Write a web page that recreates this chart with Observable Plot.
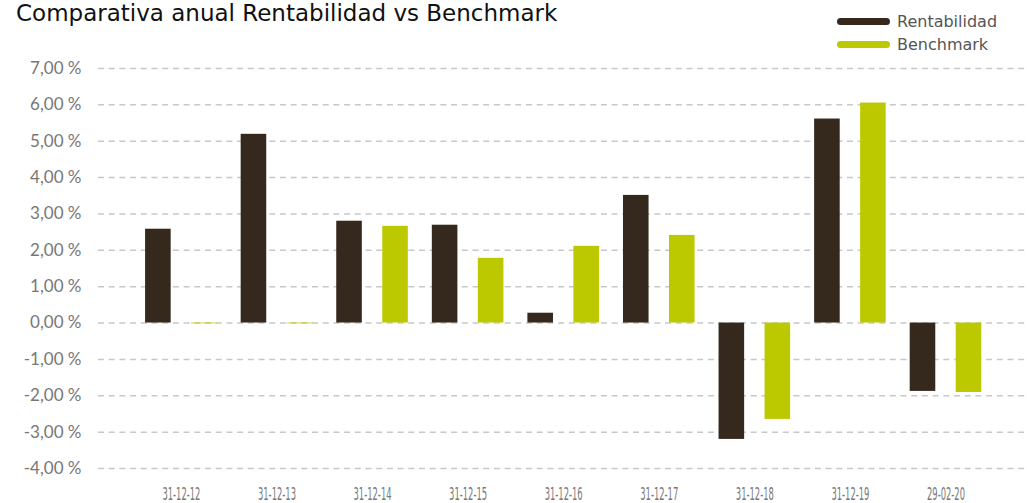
<!DOCTYPE html>
<html><head><meta charset="utf-8">
<script src="https://cdn.jsdelivr.net/npm/d3@7"></script>
<script src="https://cdn.jsdelivr.net/npm/@observablehq/plot@0.6"></script>
<style>
body{margin:0;background:#fff;overflow:hidden}
#wrap{position:relative;width:1027px;height:503px}
#title{position:absolute;left:16px;top:2px;font-family:"DejaVu Sans";font-size:23px;line-height:23px;color:#111;white-space:nowrap;z-index:2}
#legend{position:absolute;left:837px;top:10px;z-index:2;font-family:"DejaVu Sans";font-size:16px;color:#555}
.li{display:flex;align-items:center;height:23px}
.sw{width:53px;height:7px;border-radius:4px;margin-right:7px}
</style></head>
<body><div id="wrap"><div id="title"></div><div id="legend"></div></div>
<script>
const titleText = "Comparativa anual Rentabilidad vs Benchmark";
const dates = ["31-12-12","31-12-13","31-12-14","31-12-15","31-12-16","31-12-17","31-12-18","31-12-19","29-02-20"];
const rentabilidad = [2.58, 5.19, 2.80, 2.69, 0.27, 3.51, -3.20, 5.61, -1.88];
const benchmark = [-0.02, -0.02, 2.66, 1.78, 2.11, 2.41, -2.65, 6.05, -1.91];
const seriesNames = ["Rentabilidad", "Benchmark"];
const seriesColors = ["#35281c", "#bcc900"];
const yTicks = [-4, -3, -2, -1, 0, 1, 2, 3, 4, 5, 6, 7];

const rows = dates.map((d, i) => ({date: d, rent: rentabilidad[i], bench: benchmark[i]}));

document.getElementById("title").textContent = titleText;
const leg = document.getElementById("legend");
seriesNames.forEach((n, i) => {
  const li = document.createElement("div"); li.className = "li";
  const sw = document.createElement("div"); sw.className = "sw"; sw.style.background = seriesColors[i];
  const t = document.createElement("span"); t.textContent = n;
  li.appendChild(sw); li.appendChild(t); leg.appendChild(li);
});

const chart = Plot.plot({
  width: 1027, height: 503,
  marginTop: 68, marginBottom: 35, marginLeft: 98, marginRight: 0,
  style: {background: "#fff", color: "#777", fontFamily: "Lato", fontSize: "16px"},
  x: {domain: dates, paddingInner: 0, paddingOuter: 0.36, align: 0.51, round: false, label: null},
  y: {domain: [-4, 7], label: null},
  marks: [
    Plot.ruleY(yTicks, {stroke: "#c8c8c8", strokeWidth: 1.5, strokeDasharray: "6,4.7"}),
    Plot.barY(rows, {x: "date", y: "rent", fill: seriesColors[0], insetLeft: 12, insetRight: 58}),
    Plot.barY(rows, {x: "date", y: "bench", fill: seriesColors[1], insetLeft: 58, insetRight: 12}),
    Plot.axisY({ticks: yTicks, tickSize: 0, tickPadding: 17, fontSize: 17, fill: "#777",
      tickFormat: d => d.toFixed(2).replace(".", ",") + " %", label: null}),
    Plot.axisX({tickSize: 0, tickPadding: 19, fontSize: 17, fill: "#777", fontFamily: "DejaVu Sans Condensed", label: null})
  ]
});
chart.style.position = "absolute"; chart.style.left = "0"; chart.style.top = "0";
document.getElementById("wrap").appendChild(chart);
chart.querySelectorAll('[aria-label="x-axis tick label"] text').forEach(t => {
  t.setAttribute("textLength", "38");
  t.setAttribute("lengthAdjust", "spacingAndGlyphs");
});
</script></body></html>
